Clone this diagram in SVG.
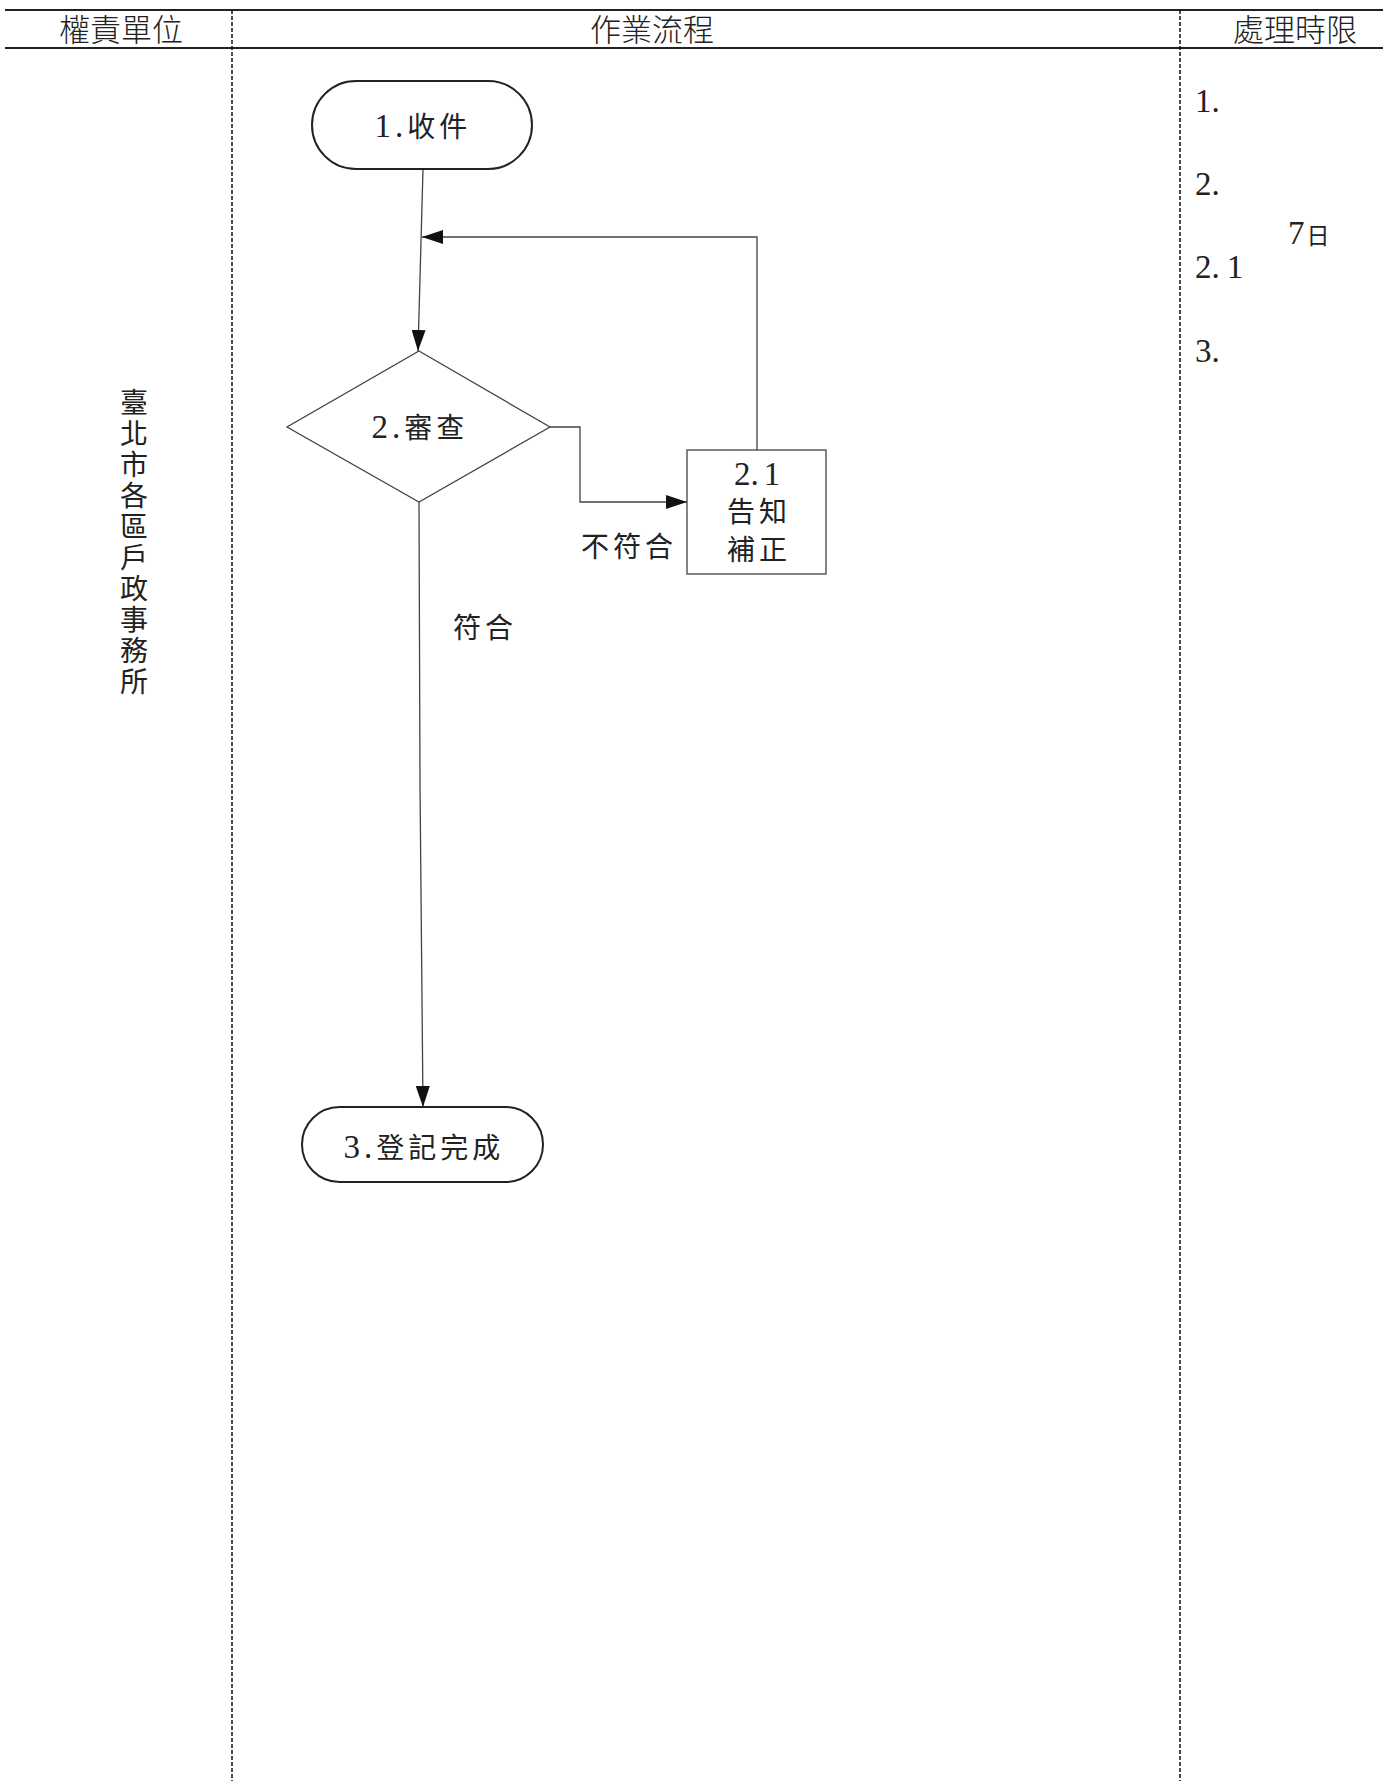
<svg xmlns="http://www.w3.org/2000/svg" width="1383" height="1781" viewBox="0 0 1383 1781">
<style>
.hdr{font-family:"Noto Sans CJK TC","Noto Sans CJK SC",sans-serif;font-size:31px;font-weight:300;fill:#222;text-anchor:middle}
.t{font-family:"Liberation Serif","Noto Sans CJK TC",serif;font-size:28px;fill:#222}
.d{font-size:33px}
.c{text-anchor:middle}
.term{fill:#fff;stroke:#222;stroke-width:2}
.shape{fill:#fff;stroke:#444;stroke-width:1.3}
.conn{fill:none;stroke:#444;stroke-width:1.3}
.lane{stroke:#111;stroke-width:1.5;stroke-dasharray:4 2}
.hline{stroke:#222;stroke-width:2.2}
</style>
<defs>
<marker id="arr" markerUnits="userSpaceOnUse" markerWidth="21" markerHeight="14" refX="21" refY="7" orient="auto">
<path d="M0,0 L21,7 L0,14 z" fill="#111"/>
</marker>
</defs>
<rect width="1383" height="1781" fill="#fff"/>
<g id="header">
<line class="hline" x1="5" y1="10" x2="1383" y2="10"/>
<line class="hline" x1="5" y1="48" x2="1383" y2="48"/>
<line class="lane" x1="232" y1="10" x2="232" y2="1781"/>
<line class="lane" x1="1180" y1="10" x2="1180" y2="1781"/>
<text class="hdr" x="121" y="41">權責單位</text>
<text class="hdr" x="652" y="41">作業流程</text>
<text class="hdr" x="1295" y="41">處理時限</text>
</g>
<g id="lane-label">
<text class="t c" x="134" font-size="26">
<tspan x="134" y="413">臺</tspan><tspan x="134" y="444">北</tspan><tspan x="134" y="475">市</tspan><tspan x="134" y="506">各</tspan><tspan x="134" y="537">區</tspan><tspan x="134" y="568">戶</tspan><tspan x="134" y="599">政</tspan><tspan x="134" y="630">事</tspan><tspan x="134" y="661">務</tspan><tspan x="134" y="692">所</tspan>
</text>
</g>
<g id="time-limits">
<text class="t d" x="1195" y="112">1.</text>
<text class="t d" x="1195" y="195">2.</text>
<text class="t" x="1288" y="244"><tspan class="d">7</tspan><tspan font-size="23" dx="2">日</tspan></text>
<text class="t d" x="1195" y="278">2.<tspan dx="7">1</tspan></text>
<text class="t d" x="1195" y="362">3.</text>
</g>
<g id="connectors">
<path class="conn" d="M423,169 L418,351" marker-end="url(#arr)"/>
<path class="conn" d="M757,450 L757,237 L422,237" marker-end="url(#arr)"/>
<path class="conn" d="M550,427 L580,427 L580,502 L687,502" marker-end="url(#arr)"/>
<path class="conn" d="M419,502 L420,784 L423,1107" marker-end="url(#arr)"/>
<text class="t" x="581" y="557" letter-spacing="4">不符合</text>
<text class="t" x="453" y="638" letter-spacing="4">符合</text>
</g>
<g id="node-1">
<rect class="term" x="312" y="81" width="220" height="88" rx="44" ry="44"/>
<text class="t c" x="423" y="137" letter-spacing="4"><tspan class="d">1.</tspan>收件</text>
</g>
<g id="node-2">
<polygon class="shape" points="419,351 550,427 419,502 287,427"/>
<text class="t c" x="420" y="438" letter-spacing="4"><tspan class="d">2.</tspan>審查</text>
</g>
<g id="node-2-1">
<rect class="shape" x="687" y="450" width="139" height="124"/>
<text class="t c d" x="757" y="485">2.<tspan dx="5">1</tspan></text>
<text class="t c" x="759" y="522" letter-spacing="4">告知</text>
<text class="t c" x="759" y="560" letter-spacing="4">補正</text>
</g>
<g id="node-3">
<rect class="term" x="302" y="1107" width="241" height="75" rx="37.5" ry="37.5"/>
<text class="t c" x="424" y="1158" letter-spacing="4"><tspan class="d">3.</tspan>登記完成</text>
</g>
</svg>
